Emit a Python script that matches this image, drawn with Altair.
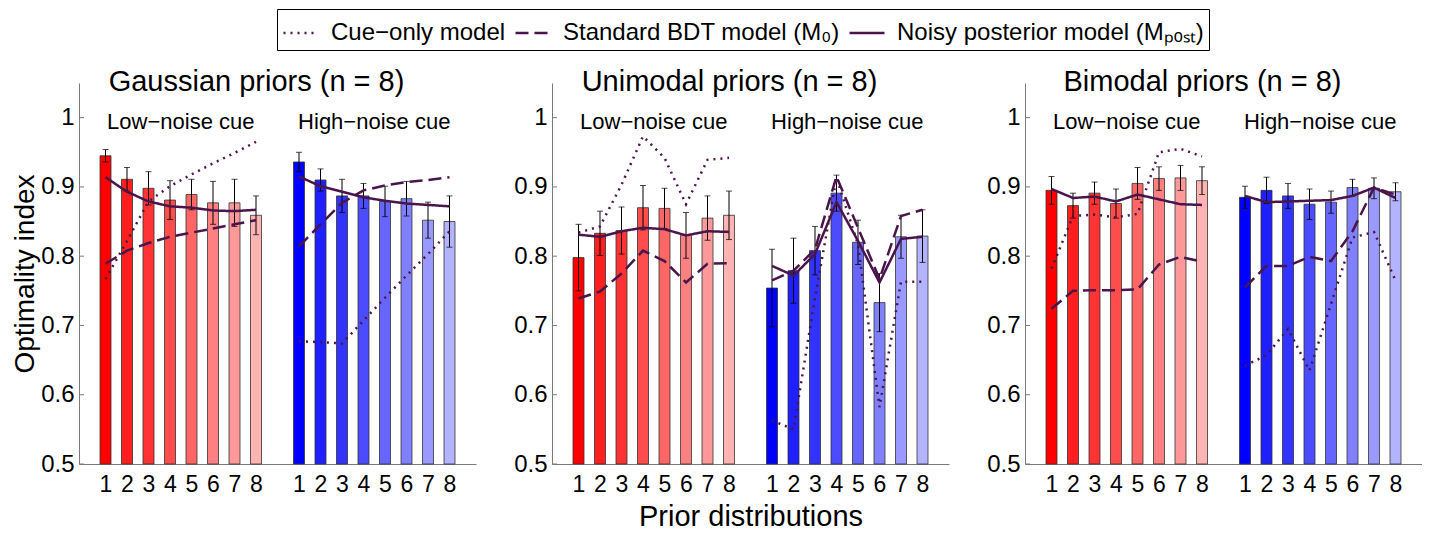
import altair as alt
import pandas as pd

# ---------------- data ----------------
panel_titles = ["Gaussian priors (n = 8)", "Unimodal priors (n = 8)", "Bimodal priors (n = 8)"]
cue_names = ["Low\u2212noise cue", "High\u2212noise cue"]
priors = [1, 2, 3, 4, 5, 6, 7, 8]
low_pos = [1, 2, 3, 4, 5, 6, 7, 8]
high_pos = [10, 11, 12, 13, 14, 15, 16, 17]
y_ticks = [0.5, 0.6, 0.7, 0.8, 0.9, 1.0]

low_colors = ["#ff0000", "#ff1f1f", "#ff3333", "#ff4c4c", "#ff6666", "#ff8080", "#ff9999", "#ffb3b3"]
high_colors = ["#0000ff", "#1f1fff", "#3333ff", "#4c4cff", "#6666ff", "#8080ff", "#9999ff", "#b3b3ff"]

model_names = ["Cue\u2212only model", "Standard BDT model (M\u2080)", "Noisy posterior model (M\u209a\u2092\u209b\u209c)"]

# Gaussian
g_low_bar = [0.945, 0.911, 0.898, 0.881, 0.889, 0.877, 0.877, 0.859]
g_low_err = [0.009, 0.017, 0.024, 0.028, 0.022, 0.031, 0.034, 0.028]
g_low_cue = [0.767, 0.822, 0.879, 0.901, 0.918, 0.934, 0.949, 0.965]
g_low_bdt = [0.789, 0.808, 0.819, 0.828, 0.834, 0.840, 0.846, 0.852]
g_low_post = [0.914, 0.893, 0.879, 0.872, 0.870, 0.866, 0.865, 0.867]
g_high_bar = [0.936, 0.910, 0.887, 0.887, 0.879, 0.883, 0.852, 0.850]
g_high_err = [0.014, 0.016, 0.024, 0.018, 0.022, 0.025, 0.026, 0.037]
g_high_cue = [0.677, 0.676, 0.674, 0.707, 0.740, 0.772, 0.803, 0.836]
g_high_bdt = [0.814, 0.846, 0.877, 0.895, 0.902, 0.907, 0.910, 0.914]
g_high_post = [0.915, 0.901, 0.893, 0.885, 0.880, 0.876, 0.874, 0.872]

# Unimodal
u_low_bar = [0.798, 0.833, 0.837, 0.870, 0.869, 0.830, 0.855, 0.859]
u_low_err = [0.048, 0.032, 0.034, 0.032, 0.029, 0.033, 0.032, 0.035]
u_low_cue = [0.834, 0.843, 0.903, 0.973, 0.942, 0.875, 0.939, 0.942]
u_low_bdt = [0.739, 0.749, 0.775, 0.808, 0.793, 0.762, 0.789, 0.790]
u_low_post = [0.831, 0.828, 0.836, 0.841, 0.839, 0.830, 0.836, 0.835]
u_high_bar = [0.754, 0.779, 0.808, 0.891, 0.820, 0.733, 0.828, 0.829]
u_high_err = [0.056, 0.047, 0.035, 0.026, 0.032, 0.042, 0.031, 0.038]
u_high_cue = [0.563, 0.550, 0.740, 0.913, 0.817, 0.582, 0.763, 0.763]
u_high_bdt = [0.765, 0.779, 0.810, 0.915, 0.841, 0.767, 0.858, 0.867]
u_high_post = [0.786, 0.772, 0.803, 0.878, 0.822, 0.762, 0.825, 0.828]

# Bimodal
b_low_bar = [0.895, 0.873, 0.891, 0.876, 0.905, 0.912, 0.913, 0.909]
b_low_err = [0.020, 0.018, 0.016, 0.021, 0.023, 0.017, 0.018, 0.020]
b_low_cue = [0.782, 0.858, 0.860, 0.856, 0.861, 0.950, 0.955, 0.944]
b_low_bdt = [0.724, 0.750, 0.751, 0.751, 0.752, 0.788, 0.799, 0.792]
b_low_post = [0.897, 0.884, 0.886, 0.879, 0.889, 0.882, 0.875, 0.874]
b_high_bar = [0.885, 0.895, 0.887, 0.875, 0.878, 0.899, 0.898, 0.893]
b_high_err = [0.016, 0.019, 0.018, 0.022, 0.016, 0.012, 0.015, 0.013]
b_high_cue = [0.642, 0.657, 0.695, 0.635, 0.731, 0.827, 0.835, 0.765]
b_high_bdt = [0.755, 0.786, 0.786, 0.799, 0.793, 0.836, 0.899, 0.889]
b_high_post = [0.887, 0.878, 0.879, 0.880, 0.881, 0.887, 0.899, 0.884]

panels_data = [
    (g_low_bar, g_low_err, g_low_cue, g_low_bdt, g_low_post,
     g_high_bar, g_high_err, g_high_cue, g_high_bdt, g_high_post),
    (u_low_bar, u_low_err, u_low_cue, u_low_bdt, u_low_post,
     u_high_bar, u_high_err, u_high_cue, u_high_bdt, u_high_post),
    (b_low_bar, b_low_err, b_low_cue, b_low_bdt, b_low_post,
     b_high_bar, b_high_err, b_high_cue, b_high_bdt, b_high_post),
]

color_keys = [f"L{p}" for p in priors] + [f"H{p}" for p in priors]
color_range = low_colors + high_colors

PURPLE = "#4a154b"
AXIS_GRAY = "#7a7a7a"
FONT = "Liberation Sans"


def build_frame(d):
    rows = []
    groups = [(cue_names[0], "L", low_pos, d[0], d[1], d[2], d[3], d[4]),
              (cue_names[1], "H", high_pos, d[5], d[6], d[7], d[8], d[9])]
    for cue, k, pos, bar, err, cue_m, bdt, post in groups:
        for i, p in enumerate(priors):
            rows.append({
                "cue": cue, "prior": p, "pos": pos[i], "key": f"{k}{p}",
                "value": bar[i], "lo": bar[i] - err[i], "hi": bar[i] + err[i],
                model_names[0]: cue_m[i], model_names[1]: bdt[i], model_names[2]: post[i],
            })
    return pd.DataFrame(rows)


xscale = alt.Scale(domain=[0, 18], nice=False, zero=False)
yscale = alt.Scale(domain=[0.5, 1.05], nice=False, zero=False)

legend = alt.Legend(
    orient="none", direction="horizontal", legendX=198, legendY=-74,
    title=None, symbolType="stroke", symbolSize=1225, symbolStrokeWidth=2.5,
    symbolStrokeColor=PURPLE, labelFontSize=24, labelFont=FONT, labelColor="black",
    labelLimit=500, labelOffset=11, columnPadding=4, padding=5,
    strokeColor="black", fillColor="white", columns=3,
)


def panel(i, y_title, x_title):
    df = build_frame(panels_data[i])
    base = alt.Chart(df)
    xaxis = alt.Axis(
        values=low_pos + high_pos,
        labelExpr="datum.value > 9 ? datum.value - 9 : datum.value",
        labelOverlap=False, labelBound=False,
        ticks=False, grid=False, title=x_title, labelFontSize=23,
        labelPadding=9, titleFontSize=29, titlePadding=6, titleFontWeight="normal",
    )
    yaxis = alt.Axis(
        values=y_ticks,
        labelExpr="datum.value == 1 ? '1' : format(datum.value, '.1f')",
        ticks=False, grid=False, title=y_title, labelFontSize=24, labelPadding=5,
        titleFontSize=28, titlePadding=1, titleFontWeight="normal",
    )
    x = alt.X("pos:Q", scale=xscale, axis=xaxis)
    bars = base.mark_bar(size=11, stroke="#333333", strokeWidth=0.8).encode(
        x=x, y=alt.Y("value:Q", scale=yscale, axis=yaxis), y2=alt.datum(0.5),
        color=alt.Color("key:N", scale=alt.Scale(domain=color_keys, range=color_range), legend=None),
    )
    err = base.mark_rule(color="black", strokeWidth=1).encode(
        x=x, y=alt.Y("lo:Q", scale=yscale, axis=yaxis), y2="hi:Q")
    cap_lo = base.mark_tick(orient="horizontal", size=6, thickness=1, color="black").encode(
        x=x, y=alt.Y("lo:Q", scale=yscale, axis=yaxis))
    cap_hi = base.mark_tick(orient="horizontal", size=6, thickness=1, color="black").encode(
        x=x, y=alt.Y("hi:Q", scale=yscale, axis=yaxis))
    lines = base.transform_fold(model_names, as_=["model", "mval"]).mark_line(
        strokeWidth=2.5, interpolate="linear", stroke=PURPLE).encode(
        x=x, y=alt.Y("mval:Q", scale=yscale, axis=yaxis),
        strokeDash=alt.StrokeDash("model:N", scale=alt.Scale(
            domain=model_names, range=[[2, 5], [13, 6], [1, 0]]), legend=legend),
        detail="cue:N",
    )
    subt = base.transform_aggregate(cx="mean(pos)", groupby=["cue"]).mark_text(
        fontSize=22, font=FONT, baseline="middle", color="black").encode(
        x=alt.X("cx:Q", scale=xscale, axis=xaxis), y=alt.value(39), text="cue:N")
    ticks = alt.Chart(pd.DataFrame({"t": y_ticks})).mark_rule(color=AXIS_GRAY, strokeWidth=1).encode(
        y=alt.Y("t:Q", scale=yscale, axis=yaxis), x=alt.value(0), x2=alt.value(5))
    return alt.layer(bars, err, cap_lo, cap_hi, lines, subt, ticks).properties(
        width=397, height=381,
        title=alt.TitleParams(panel_titles[i], fontSize=29, font=FONT, fontWeight="normal",
                              anchor="middle", dx=-21, offset=0, baseline="alphabetic", dy=37,
                              color="black"),
    )


chart = alt.hconcat(
    panel(0, "Optimality index", ""),
    panel(1, "", "Prior distributions"),
    panel(2, "", ""),
    spacing=37,
).configure(padding={"left": 3, "top": 0, "right": 0, "bottom": 0}).configure_view(
    stroke=None).configure_axis(
    domainColor=AXIS_GRAY, domainWidth=1, labelFont=FONT, titleFont=FONT,
    labelColor="black", titleColor="black",
).configure_axisX(labelOverlap=False)

chart.save("out.html", embed_options={"renderer": "svg", "actions": False})
